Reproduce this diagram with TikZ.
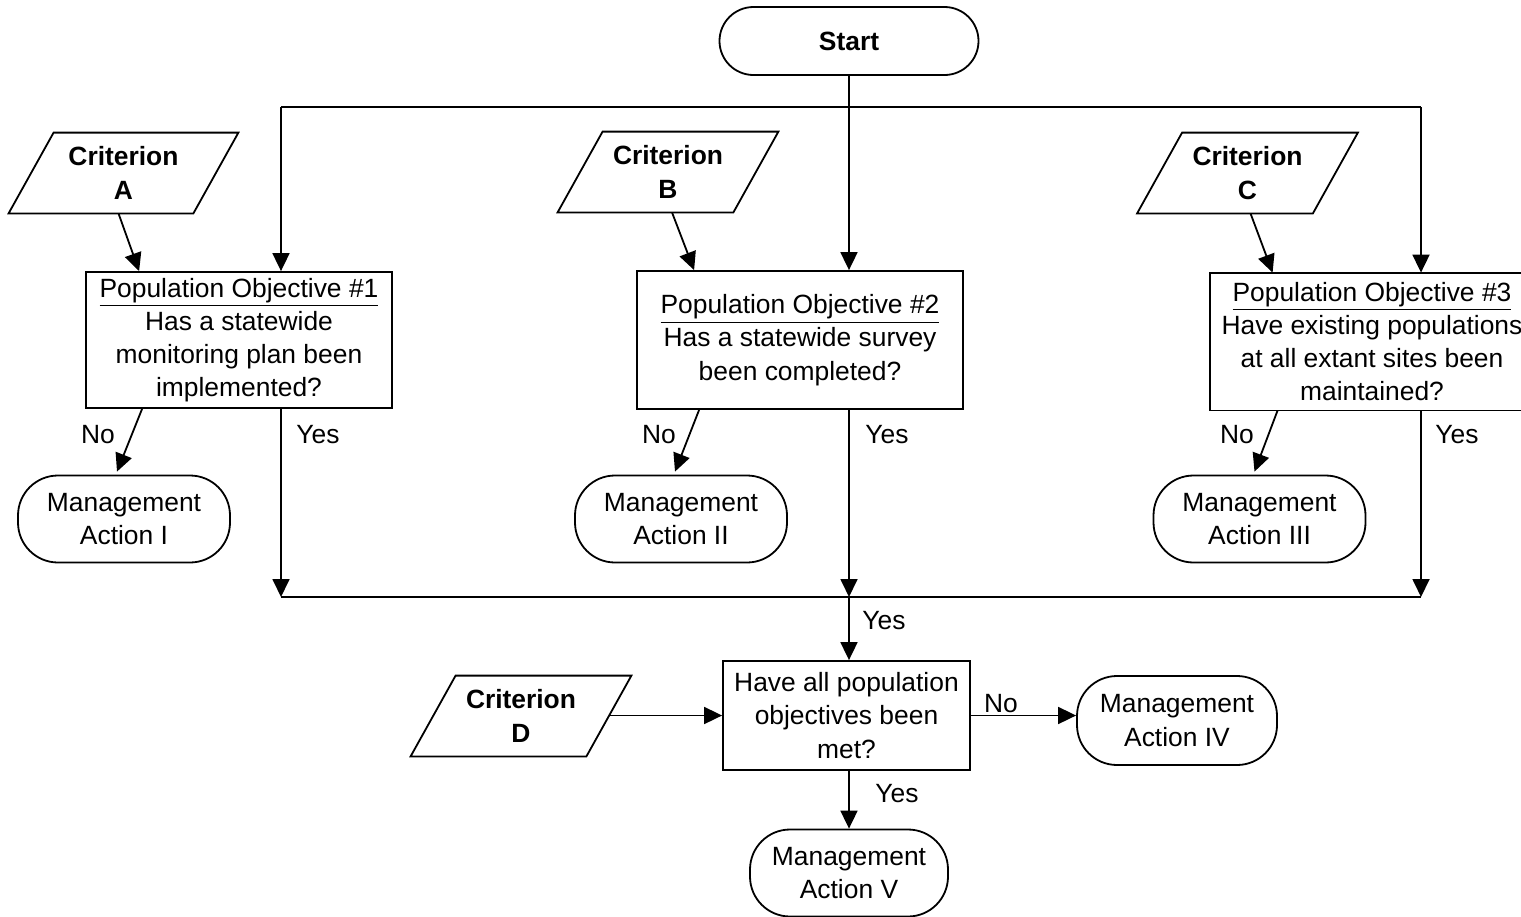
\documentclass[tikz,border=0pt]{standalone}
\usepackage{fontspec}
\setmainfont{Liberation Sans}
\usetikzlibrary{arrows.meta,calc}
\begin{document}
\begin{tikzpicture}[x=0.5pt,y=-0.5pt,
  every node/.style={font=\fontsize{13.2}{16.6}\selectfont, inner sep=0pt},
  ln/.style={line width=0.9pt},
  arr/.style={line width=0.9pt, -{Triangle[length=9pt,width=8.5pt]}},
  obox/.style={draw, line width=0.9pt, rectangle, align=center},
  term/.style={draw, line width=0.9pt, rounded corners=20pt, align=center, minimum width=106pt, minimum height=43.5pt},
  crit/.style={minimum width=87.5pt, minimum height=40pt, align=center,
    font=\bfseries\fontsize{13.2}{16.6}\selectfont},
  lbl/.style={}
]
\useasboundingbox (0,0) rectangle (1521,916);

% start
\node[draw, line width=0.9pt, rounded corners=17pt, minimum width=129.5pt, minimum height=34pt,
  font=\bfseries\fontsize{13.2}{16.6}\selectfont] (start) at (849,41) {Start};

% junctions
\coordinate (jt) at (849,107);
\coordinate (t1) at (281,107);
\coordinate (t3) at (1421,107);
\coordinate (jb) at (849,597);
\coordinate (u1) at (281,597);
\coordinate (u3) at (1421,597);

% criteria (parallelograms)
\node[crit, minimum width=92pt] (ca) at (123.5,173) {Criterion\\A};
\node[crit] (cb) at (668,172) {Criterion\\B};
\node[crit] (cc) at (1247.5,173) {Criterion\\C};
\node[crit] (cd) at (521,716) {Criterion\\D};
\foreach \c in {ca,cb,cc,cd}{
  \draw[ln] ($(\c.north west)+(22.5,0)$) -- ($(\c.north east)+(22.5,0)$)
    -- ($(\c.south east)+(-22.5,0)$) -- ($(\c.south west)+(-22.5,0)$) -- cycle;
}

% objective boxes
\node[obox, minimum width=153pt, minimum height=68pt] (b1) at (239,340)
  {\underline{Population Objective \#1}\\Has a statewide\\monitoring plan been\\implemented?};
\node[obox, minimum width=163pt, minimum height=69pt] (b2) at (800,340)
  {\underline{Population Objective \#2}\\Has a statewide survey\\been completed?};
\node[align=center, minimum width=162pt, minimum height=68.5pt] (b3) at (1372,341.5)
  {\underline{Population Objective \#3}\\Have existing populations\\at all extant sites been\\maintained?};
\draw[ln] (b3.north west) rectangle ($(b3.south east)+(20,0)$);
\node[obox, minimum width=123.5pt, minimum height=54.5pt] (b4) at (846.5,715.5)
  {Have all population\\objectives been\\met?};

% management actions
\node[term] (m1) at (124,519) {Management\\Action I};
\node[term] (m2) at (681,519) {Management\\Action II};
\node[term] (m3) at (1259.5,519) {Management\\Action III};
\node[term, minimum width=100pt, minimum height=44.5pt] (m4) at (1177,720.5) {Management\\Action IV};
\node[term, minimum width=99pt] (m5) at (849,873) {Management\\Action V};

% top distribution
\draw[ln] (start.south) -- (jt);
\draw[ln] (t1) -- (t3);
\draw[arr] (t1) -- (t1 |- b1.north);
\draw[arr] (jt) -- (jt |- b2.north);
\draw[arr] (t3) -- (t3 |- b3.north);

% criteria arrows
\draw[arr] ($(ca.south)+(-5,0)$) -- ($(b1.north west)+(54,0)$);
\draw[arr] ($(cb.south)+(4,0)$) -- ($(b2.north west)+(58,0)$);
\draw[arr] ($(cc.south)+(3,0)$) -- ($(b3.north west)+(63,0)$);
\draw[arr] ($(cd.east |- b4.west)+(1,0)$) -- (b4.west);

% No arrows
\draw[arr] ($(b1.south west)+(57,0)$) -- ($(m1.north)+(-7,-3)$);
\draw[arr] ($(b2.south west)+(63,0)$) -- ($(m2.north)+(-6,-3)$);
\draw[arr] ($(b3.south west)+(68,0)$) -- ($(m3.north)+(-5,-3)$);
\node[lbl] (n1) at (98,435) {No};
\node[lbl] (n2) at (659,435) {No};
\node[lbl] (n3) at (1237,435) {No};

% Yes lines
\draw[arr] (u1 |- b1.south) -- (u1);
\draw[arr] (jb |- b2.south) -- (jb);
\draw[arr] (u3 |- b3.south) -- (u3);
\node[lbl] (y1) at (318,435) {Yes};
\node[lbl] (y2) at (887,435) {Yes};
\node[lbl] (y3) at (1457,435) {Yes};

\draw[ln] (u1) -- (u3);
\draw[arr] (jb) -- (jb |- b4.north);
\node[lbl] (y4) at (884,621) {Yes};

\draw[arr] (b4.east) -- (m4.west |- b4.east);
\node[lbl] (n4) at (1001,704) {No};
\draw[arr] (jb |- b4.south) -- (m5.north);
\node[lbl] (y5) at (897,794) {Yes};
\end{tikzpicture}
\end{document}
